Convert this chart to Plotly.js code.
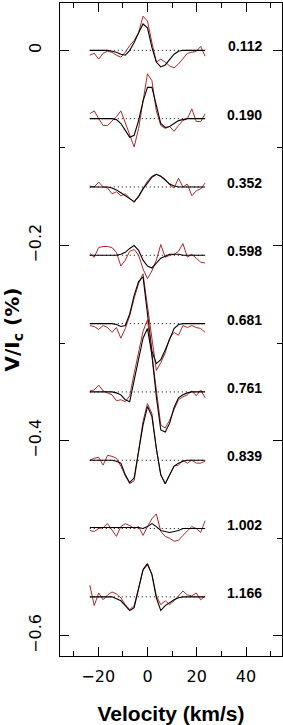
<!DOCTYPE html>
<html>
<head>
<meta charset="utf-8">
<script src="https://cdn.plot.ly/plotly-3.0.1.min.js"></script>
<style>html,body{margin:0;padding:0;background:#fff;}#chart{width:283px;height:725px;}</style>
</head>
<body>
<div id="chart"></div>
<script>
// Velocity grid (km/s)
var velocity = [-23.4,-21.6,-19.8,-18.0,-16.2,-14.4,-12.6,-10.8,-9.0,-7.2,-5.4,-3.6,-1.8,0.0,1.8,3.6,5.4,7.2,9.0,10.8,12.6,14.4,16.2,18.0,19.8,21.6,23.4];

// Rotational phases and vertical offsets of each profile (V/Ic, %)
var phases = ['0.112','0.190','0.352','0.598','0.681','0.761','0.839','1.002','1.166'];
var offsets = [0,-0.07,-0.14,-0.21,-0.28,-0.35,-0.42,-0.49,-0.56];

// Observed Stokes V profiles (red)
var obs_0112 = [-0.005,-0.003,-0.009,-0.003,-0.001,-0.002,-0.005,-0.007,-0.002,0.005,0.010,0.018,0.035,0.030,0.008,-0.012,-0.009,-0.012,-0.016,-0.018,-0.014,-0.008,-0.003,-0.002,-0.001,0.004,-0.006];
var obs_0190 = [0.005,0.008,0,-0.007,-0.007,-0.003,0.002,0.008,-0.005,-0.017,-0.029,-0.010,0.018,0.046,0.039,0.008,-0.007,-0.010,-0.008,-0.013,-0.007,-0.002,0,0.010,-0.003,-0.003,0.005];
var obs_0352 = [0.001,0,0.005,0,-0.001,-0.007,-0.005,-0.009,-0.007,-0.011,-0.016,-0.009,-0.002,0.006,0.011,0.013,0.011,0.008,0.002,-0.001,0.009,0,0.003,-0.009,-0.004,-0.002,0.004];
var obs_0598 = [0.002,-0.002,0.008,0.009,0.009,0.008,0.003,-0.011,-0.005,0.004,0.006,0,-0.014,-0.024,-0.016,-0.005,0.011,-0.002,0,0.001,0.004,0.012,-0.002,0.001,-0.003,-0.007,-0.008];
var obs_0681 = [-0.002,-0.003,-0.006,-0.002,-0.004,-0.009,-0.004,-0.015,-0.005,0.008,0.026,0.041,0.051,0.020,-0.015,-0.048,-0.040,-0.030,-0.015,-0.009,-0.012,-0.002,-0.004,-0.002,-0.004,-0.005,-0.009];
var obs_0761 = [0.001,0.002,0.007,0.001,-0.001,-0.003,-0.009,-0.008,-0.010,-0.004,0.019,0.042,0.062,0.074,0.038,0,-0.034,-0.037,-0.029,-0.018,-0.008,-0.005,-0.003,0.001,-0.004,0.002,-0.006];
var obs_0839 = [0,0.002,0.003,-0.005,0.005,0.004,0.002,-0.006,-0.016,-0.024,-0.021,0.012,0.040,0.058,0.048,0.012,-0.015,-0.024,-0.015,-0.006,-0.005,0,-0.003,0,-0.003,-0.003,-0.001];
var obs_1002 = [-0.002,-0.003,0,0.001,0.005,-0.002,-0.008,0.002,0.005,0.003,0,0.002,-0.007,0.002,0.010,0.015,-0.003,-0.008,-0.010,-0.013,-0.012,-0.007,-0.003,0.002,0,-0.004,0.008];
var obs_1166 = [0.012,-0.009,0.004,-0.003,0.002,0.005,0.003,-0.001,-0.008,-0.013,-0.009,0.009,0.027,0.033,0.023,0.001,-0.008,-0.004,-0.008,-0.004,0.001,0.006,0.002,0.001,0.004,-0.003,0.001];

// Model Stokes V profiles (black)
var model_0112 = [0,0,0,0,0,-0.001,-0.002,-0.004,-0.005,0,0.008,0.018,0.027,0.023,0.003,-0.012,-0.017,-0.015,-0.009,-0.004,-0.001,0,0,0,0,0,0];
var model_0190 = [0,0,0,0,0,0,-0.001,-0.005,-0.012,-0.019,-0.017,-0.002,0.018,0.032,0.032,0.012,-0.005,-0.009,-0.008,-0.005,-0.002,-0.001,0,0,0,0,0];
var model_0352 = [0,0,0,0,0,-0.001,-0.003,-0.006,-0.009,-0.012,-0.015,-0.010,-0.002,0.004,0.010,0.013,0.011,0.007,0.003,0.001,0,0,0,0,0,0,0];
var model_0598 = [0,0,0,0,0,0,0,0.001,0.003,0.007,0.010,0.005,-0.005,-0.011,-0.013,-0.008,-0.003,-0.001,0.001,0.001,0.001,0,0,0,0,0,0];
var model_0681 = [0,0,0,0,0,0,-0.001,-0.003,-0.002,0.010,0.029,0.043,0.048,0.010,-0.028,-0.041,-0.037,-0.027,-0.015,-0.005,-0.001,0,0,0,0,0,0];
var model_0761 = [0,0,0,0,0,0,-0.001,-0.003,-0.008,-0.010,0.012,0.034,0.055,0.065,0.038,-0.005,-0.039,-0.041,-0.032,-0.016,-0.006,-0.003,-0.001,0,0,0,0];
var model_0839 = [0,0,0,0,0,0,-0.001,-0.003,-0.015,-0.023,-0.018,0.010,0.036,0.055,0.045,0.012,-0.015,-0.024,-0.015,-0.006,-0.003,-0.001,0,0,0,0,0];
var model_1002 = [0.001,0.001,0.001,0.001,0.001,0.001,0.001,0.001,0.001,0.001,0.001,0.001,0,0.002,0.005,0.002,-0.002,-0.003,-0.004,-0.003,-0.002,0,0,0,0,0,0];
var model_1166 = [0,0,0,0,0,0,-0.002,-0.004,-0.009,-0.014,-0.011,0.009,0.028,0.034,0.023,-0.001,-0.014,-0.009,-0.006,-0.003,-0.001,0,0,0,0,0,0];

var observed = [obs_0112,obs_0190,obs_0352,obs_0598,obs_0681,obs_0761,obs_0839,obs_1002,obs_1166];
var models = [model_0112,model_0190,model_0352,model_0598,model_0681,model_0761,model_0839,model_1002,model_1166];

var traces = [];
var annotations = [];
for (var i = 0; i < phases.length; i++) {
  var off = offsets[i];
  // dotted zero line
  traces.push({
    x: [velocity[0], velocity[velocity.length-1]],
    y: [off, off],
    mode: 'lines', line: {color: '#000', width: 1, dash: '1px,3px'},
    hoverinfo: 'skip', showlegend: false
  });
  traces.push({
    x: velocity,
    y: observed[i].map(function(v){ return v + off; }),
    mode: 'lines', line: {color: '#b02828', width: 1},
    showlegend: false
  });
  traces.push({
    x: velocity,
    y: models[i].map(function(v){ return v + off; }),
    mode: 'lines', line: {color: '#000', width: 1.1},
    showlegend: false
  });
  annotations.push({
    x: 39.5, y: off + 0.004, xref: 'x', yref: 'y',
    text: phases[i], showarrow: false, xanchor: 'center', yanchor: 'middle',
    font: {family: 'Liberation Sans, Arial, sans-serif', size: 14, color: '#000', weight: 'bold'}
  });
}

var tickFont = {family: 'DejaVu Sans, sans-serif', size: 16, color: '#000'};

var layout = {
  width: 283, height: 725,
  margin: {l: 60, r: 1, t: 3, b: 69},
  paper_bgcolor: '#fff', plot_bgcolor: '#fff',
  showlegend: false,
  annotations: annotations,
  xaxis: {
    range: [-35.5, 54.6], tick0: 0, dtick: 20,
    ticks: 'inside', ticklen: 9, tickwidth: 1, tickcolor: '#000',
    minor: {dtick: 10, ticks: 'inside', ticklen: 5, tickcolor: '#000', tickwidth: 1, showgrid: false},
    showline: true, linecolor: '#000', linewidth: 1, mirror: 'allticks',
    showgrid: false, zeroline: false,
    tickfont: tickFont, ticklabelstandoff: 6,
    automargin: false,
    title: {text: 'Velocity (km/s)', standoff: 22,
      font: {family: 'Liberation Sans, Arial, sans-serif', size: 21, color: '#000', weight: 'bold'}}
  },
  yaxis: {
    range: [-0.6206, 0.0485], tick0: 0, dtick: 0.2,
    ticks: 'inside', ticklen: 9, tickwidth: 1, tickcolor: '#000',
    minor: {dtick: 0.1, ticks: 'inside', ticklen: 5, tickcolor: '#000', tickwidth: 1, showgrid: false},
    showline: true, linecolor: '#000', linewidth: 1, mirror: 'allticks',
    showgrid: false, zeroline: false,
    tickangle: -90, tickfont: tickFont, ticklabelstandoff: 12,
    automargin: false,
    title: {text: 'V/I<sub>c</sub> (%)', standoff: 11,
      font: {family: 'DejaVu Sans, sans-serif', size: 20, color: '#000', weight: 'bold'}}
  }
};

Plotly.newPlot('chart', traces, layout, {staticPlot: true, displayModeBar: false});
</script>
</body>
</html>
